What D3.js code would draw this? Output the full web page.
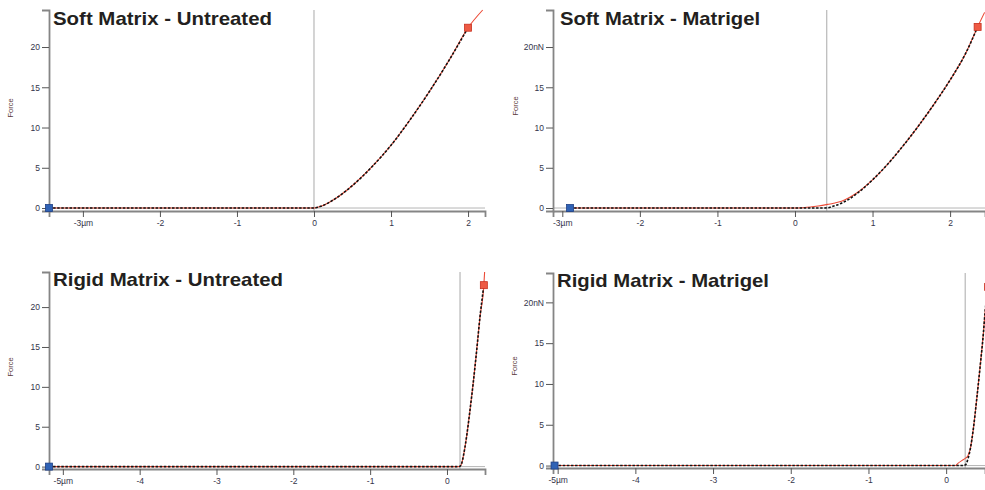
<!DOCTYPE html>
<html>
<head>
<meta charset="utf-8">
<script src="https://cdn.jsdelivr.net/npm/d3@7"></script>
<style>
  body { margin: 0; background: #fff; }
  svg { display: block; font-family: "Liberation Sans", Arial, sans-serif; }
</style>
</head>
<body>
<script>
// --- data (x in µm, force in nN) ---
const titles = ["Soft Matrix - Untreated", "Soft Matrix - Matrigel", "Rigid Matrix - Untreated", "Rigid Matrix - Matrigel"];

const xTicks = [[-3, -2, -1, 0, 1, 2], [-3, -2, -1, 0, 1, 2], [-5, -4, -3, -2, -1, 0], [-5, -4, -3, -2, -1, 0]];
const xTickLabels = [["-3µm", "-2", "-1", "0", "1", "2"], ["-3µm", "-2", "-1", "0", "1", "2"],
                     ["-5µm", "-4", "-3", "-2", "-1", "0"], ["-5µm", "-4", "-3", "-2", "-1", "0"]];
const yTicks = [0, 5, 10, 15, 20];
const yTickLabels = [["0", "5", "10", "15", "20"], ["0", "5", "10", "15", "20nN"],
                     ["0", "5", "10", "15", "20"], ["0", "5", "10", "15", "20nN"]];

const xDomains = [[-3.44, 2.22], [-3.12, 2.45], [-5.18, 0.495], [-5.06, 0.50]];
const yDomains = [[-0.37, 24.6], [-0.37, 24.6], [-0.3, 24.4], [-0.3, 23.6]];

// contact point (vertical grey line)
const contactX = [0, 0.41, 0.17, 0.245];
// start (blue) and end (red) markers
const startMarks = [[-3.44, 0], [-2.9, 0], [-5.18, 0], [-5.04, 0]];
const endMarks = [[2.0, 22.4], [2.355, 22.5], [0.48, 22.75], [0.54, 21.9]];

// measured curves (black dashed)
const dataX1 = [-3.44, -0.02, 0, 0.1, 0.25, 0.5, 0.75, 1.0, 1.25, 1.5, 1.75, 2.0];
const dataF1 = [0, 0, 0, 0.25, 1.0, 2.8, 5.1, 7.8, 11.0, 14.5, 18.3, 22.4];
const dataX2 = [-2.9, 0.3, 0.42, 0.5, 0.6, 0.8, 1.0, 1.2, 1.4, 1.6, 1.8, 2.0, 2.2, 2.355];
const dataF2 = [0, 0, 0.02, 0.25, 0.6, 1.8, 3.5, 5.5, 7.8, 10.3, 13.0, 15.9, 19.2, 22.5];
const dataX3 = [-5.18, 0.15, 0.17, 0.19, 0.213, 0.256, 0.30, 0.342, 0.387, 0.43, 0.48];
const dataF3 = [0, 0, 0.05, 0.35, 1.3, 3.8, 7.1, 10.5, 14.6, 18.8, 22.75];
const dataX4 = [-5.04, 0.2, 0.25, 0.28, 0.31, 0.35, 0.394, 0.438, 0.48, 0.50, 0.54];
const dataF4 = [0, 0, 0.1, 0.8, 2.0, 4.5, 8.2, 12.2, 16.3, 18.7, 21.9];

// fitted curves (red)
const fitX1 = [-3.44, 0, 0.1, 0.25, 0.5, 0.75, 1.0, 1.25, 1.5, 1.75, 2.0, 2.19];
const fitF1 = [0, 0, 0.25, 1.0, 2.8, 5.1, 7.8, 11.0, 14.5, 18.3, 22.4, 24.6];
const fitX2 = [-2.9, 0.0, 0.1, 0.2, 0.3, 0.42, 0.5, 0.6, 0.8, 1.0, 1.2, 1.4, 1.6, 1.8, 2.0, 2.2, 2.355, 2.445];
const fitF2 = [0, 0, 0.04, 0.12, 0.25, 0.45, 0.6, 0.85, 1.9, 3.5, 5.5, 7.8, 10.3, 13.0, 15.9, 19.2, 22.5, 24.3];
const fitX3 = [-5.18, 0.15, 0.17, 0.19, 0.213, 0.256, 0.30, 0.342, 0.387, 0.43, 0.48, 0.49];
const fitF3 = [0, 0, 0.05, 0.35, 1.3, 3.8, 7.1, 10.5, 14.6, 18.8, 22.75, 24.4];
const fitX4 = [-5.04, 0.12, 0.155, 0.2, 0.25, 0.28, 0.31, 0.35, 0.394, 0.438, 0.48, 0.50, 0.54, 0.6];
const fitF4 = [0, 0, 0.3, 0.6, 0.9, 1.2, 2.0, 4.5, 8.2, 12.2, 16.3, 18.7, 21.9, 25];

const dataCurves = [[dataX1, dataF1], [dataX2, dataF2], [dataX3, dataF3], [dataX4, dataF4]];
const fitCurves = [[fitX1, fitF1], [fitX2, fitF2], [fitX3, fitF3], [fitX4, fitF4]];

// --- layout (pixels) ---
const W = 985, H = 490;
const frames = [
  { left: 49, right: 485, top: 10, bottom: 211, title: [53, 25, 219], force: [13, 108] },
  { left: 553, right: 985, top: 10, bottom: 211, title: [560, 25, 200], force: [518, 106] },
  { left: 49, right: 485, top: 272, bottom: 469, title: [53, 286, 230], force: [13, 367] },
  { left: 553, right: 985, top: 273, bottom: 468, title: [557, 287, 212], force: [517, 366] }
];

const tickColor = "#34344a";
const axisColor = "#858585";

const svg = d3.select("body").append("svg")
  .attr("width", W)
  .attr("height", H);

frames.forEach((f, i) => {
  const x = d3.scaleLinear().domain(xDomains[i]).range([f.left, f.right]);
  const y = d3.scaleLinear().domain(yDomains[i]).range([f.bottom, f.top]);
  const g = svg.append("g");

  // zero line + contact line
  g.append("line")
    .attr("x1", f.left).attr("x2", f.right)
    .attr("y1", y(0)).attr("y2", y(0))
    .attr("stroke", "#b5b5b5").attr("stroke-width", 1);
  g.append("line")
    .attr("x1", x(contactX[i])).attr("x2", x(contactX[i]))
    .attr("y1", f.top).attr("y2", f.bottom)
    .attr("stroke", "#a9a9a9").attr("stroke-width", 1);

  // axes
  const xAxis = d3.axisBottom(x).tickValues(xTicks[i])
    .tickFormat((d, k) => xTickLabels[i][k]).tickSizeOuter(0).tickSize(6).tickPadding(3);
  const yAxis = d3.axisLeft(y).tickValues(yTicks)
    .tickFormat((d, k) => yTickLabels[i][k]).tickSizeOuter(0).tickSize(7).tickPadding(2);

  const gx = g.append("g").attr("transform", "translate(0," + f.bottom + ")").call(xAxis);
  const gy = g.append("g").attr("transform", "translate(" + f.left + ",0)").call(yAxis);
  [gx, gy].forEach(a => {
    a.select(".domain").attr("stroke", axisColor).attr("stroke-width", 1.8);
    a.selectAll(".tick line").attr("stroke", "#555").attr("stroke-width", 1);
    a.selectAll(".tick text").attr("fill", tickColor).style("font-size", "8.5px");
  });

  // curves
  const line = d3.line().x(d => x(d[0])).y(d => y(d[1])).curve(d3.curveMonotoneX);
  const fitPts = d3.zip(fitCurves[i][0], fitCurves[i][1]);
  const dataPts = d3.zip(dataCurves[i][0], dataCurves[i][1]);

  g.append("path").datum(fitPts)
    .attr("d", line).attr("fill", "none")
    .attr("stroke", "#ec4a36").attr("stroke-width", 1.1);
  g.append("path").datum(dataPts)
    .attr("d", line).attr("fill", "none")
    .attr("stroke", "#111").attr("stroke-width", 1.6)
    .attr("stroke-dasharray", "2.5,1.6");

  // markers
  const s = 7;
  g.append("rect")
    .attr("x", x(startMarks[i][0]) - s / 2).attr("y", y(startMarks[i][1]) - s / 2)
    .attr("width", s).attr("height", s)
    .attr("fill", "#2f62b5").attr("stroke", "#1d3f86").attr("stroke-width", 0.8);
  g.append("rect")
    .attr("x", x(endMarks[i][0]) - s / 2).attr("y", y(endMarks[i][1]) - s / 2)
    .attr("width", s).attr("height", s)
    .attr("fill", "#ee5a44").attr("stroke", "#c7301f").attr("stroke-width", 0.8);

  // title
  g.append("text")
    .attr("x", f.title[0]).attr("y", f.title[1])
    .attr("textLength", f.title[2]).attr("lengthAdjust", "spacingAndGlyphs")
    .style("font-size", "19px").style("font-weight", "bold")
    .attr("fill", "#231f20")
    .text(titles[i]);

  // y label
  g.append("text")
    .attr("transform", "translate(" + f.force[0] + "," + f.force[1] + ") rotate(-90)")
    .attr("text-anchor", "middle")
    .attr("fill", "#5a3a3a")
    .style("font-size", "7.5px")
    .text("Force");
});
</script>
</body>
</html>
